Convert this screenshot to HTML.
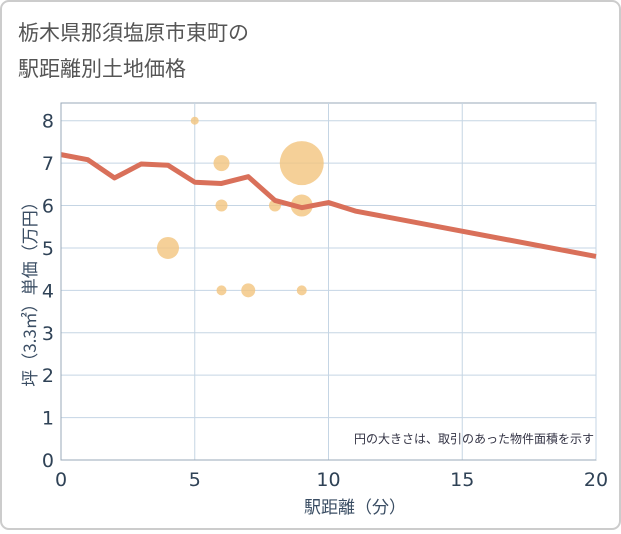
<!DOCTYPE html>
<html><head><meta charset="utf-8"><style>
body{margin:0;background:#fff;font-family:"DejaVu Sans","Noto Sans CJK JP",sans-serif}
#wrap{position:relative;width:621px;height:530px}
</style></head><body>
<div id="wrap">
<svg id="svg" width="621" height="530" xmlns="http://www.w3.org/2000/svg" font-family="DejaVu Sans,Noto Sans CJK JP,sans-serif">
<rect x="1" y="1" width="619" height="528" rx="8" fill="#fff" stroke="#ccc" stroke-width="2"/>
<text x="18" y="40" font-size="21" fill="#555" font-family="Noto Sans CJK JP,sans-serif">栃木県那須塩原市東町の</text>
<text x="18" y="76" font-size="21" fill="#555" font-family="Noto Sans CJK JP,sans-serif">駅距離別土地価格</text>
<g id="grid"></g>
<g id="bubbles"></g>
<g id="line"></g>
<g id="axes"></g>
<text x="594" y="443" font-size="12" fill="#334" text-anchor="end" font-family="Noto Sans CJK JP,sans-serif">円の大きさは、取引のあった物件面積を示す</text>
<text x="355" y="513" font-size="17" fill="#3a4d63" text-anchor="middle" font-family="Noto Sans CJK JP,sans-serif">駅距離（分）</text>
<text transform="translate(36,290) rotate(-90)" font-size="17" fill="#3a4d63" text-anchor="middle" font-family="Noto Sans CJK JP,sans-serif">坪（3.3㎡）単価（万円）</text>
</svg>
</div>
<script>
const xTicks=[0,5,10,15,20];
const yTicks=[0,1,2,3,4,5,6,7,8];
const lineX=[0,1,2,3,4,5,6,7,8,9,10,11,20];
const lineY=[7.2,7.08,6.65,6.98,6.95,6.55,6.52,6.68,6.12,5.95,6.07,5.87,4.8];
const bubX=[5,6,9,6,8,9,4,6,7,9];
const bubY=[8,7,7,6,6,6,5,4,4,4];
const bubR=[4,8,22,6,6,11,11,5,7,5];
const L=61,R=596,T=103,B=460;
const xs=v=>L+(R-L)*v/20;
const ys=v=>B-(B-120.7)*v/8;
const NS="http://www.w3.org/2000/svg";
function mk(t,a,p){const e=document.createElementNS(NS,t);for(const k in a)e.setAttribute(k,a[k]);p.appendChild(e);return e;}
const g=document.getElementById('grid');
const bg=mk('rect',{x:L,y:T,width:R-L,height:B-T,fill:'#fff',stroke:'#9aa9b8'},g);


const ax=document.getElementById('axes');
yTicks.forEach(v=>{
 const l=mk('line',{x1:L,x2:R,y1:ys(v),y2:ys(v),stroke:'#c5d5e4'},g);
 
 
 const t=mk('text',{x:L-7,y:ys(v)+7,'font-size':19,fill:'#2f4256','text-anchor':'end'},ax);
 t.textContent=v;
 
 
});
xTicks.forEach(v=>{
 const l=mk('line',{x1:xs(v),x2:xs(v),y1:T,y2:B,stroke:'#c5d5e4'},g);
 
 
 const t=mk('text',{x:xs(v),y:B+26,'font-size':19,fill:'#2f4256','text-anchor':'middle'},ax);
 t.textContent=v;
 
 
});
const al=mk('line',{x1:L,x2:L,y1:T,y2:B,stroke:'#9aa9b8'},ax);


const bl=mk('line',{x1:L,x2:R,y1:B,y2:B,stroke:'#9aa9b8'},ax);


const bb=document.getElementById('bubbles');
bubX.forEach((x,i)=>{
 const c=mk('circle',{cx:xs(x),cy:ys(bubY[i]),r:bubR[i],fill:'#f3c47e','fill-opacity':0.8},bb);
 
 
});
const p=mk('polyline',{points:lineX.map((x,i)=>xs(x)+','+ys(lineY[i])).join(' '),fill:'none',stroke:'#d9705a','stroke-width':5,'stroke-linejoin':'round'},document.getElementById('line'));


</script>
</body></html>
